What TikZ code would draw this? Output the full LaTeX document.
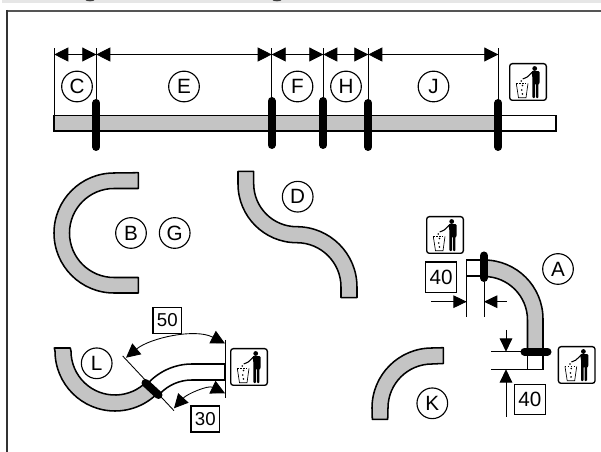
\documentclass[tikz,border=0pt]{standalone}
\usepackage{fontspec}
\setmainfont{Liberation Sans}
\usetikzlibrary{arrows.meta}
\definecolor{tube}{HTML}{C4C4C4}
\definecolor{framegrey}{HTML}{555555}
\definecolor{stripgrey}{HTML}{E6E6E6}
\tikzset{
  pipe/.style={draw=black,line width=1.15pt,fill=tube,line join=round},
  openpipe/.style={draw=black,line width=1.15pt,fill=white},
  edgeline/.style={draw=black,line width=1.15pt},
  cutline/.style={line width=6pt,line cap=round,black},
  thin dim/.style={line width=.65pt,draw=black},
  dimtips/.style={thin dim,{Triangle[length=10.5pt,width=10.5pt]}-{Triangle[length=10.5pt,width=10.5pt]}},
  righttip/.style={thin dim,-{Triangle[length=10pt,width=9.5pt]}},
  lbl/.style={circle,draw=black,line width=.85pt,minimum size=23pt,inner sep=0pt,font=\fontsize{15.5}{15.5}\selectfont},
  valbox/.style={rectangle,draw=black,line width=.85pt,fill=white,inner sep=0pt},
  iconbox/.style={rectangle,draw=black,line width=1pt,rounded corners=2pt,minimum size=27.5pt,inner sep=0pt,fill=white},
}
\newcommand{\trashicon}[3]{%
  \node[iconbox] (#1) at (#2,#3) {};
  \begin{scope}[shift={(#2,#3)}]
    \fill (6.7,-13.5) circle[radius=2.4];
    \fill[rounded corners=.8pt] (3.2,-10.8) -- (11.7,-10.8) -- (11.7,1.5) -- (10.4,1.5) -- (10.4,16.2) -- (7.9,16.2) -- (7.9,1.5) -- (6.9,1.5) -- (6.9,16.2) -- (4.4,16.2) -- (4.4,-5) -- cycle;
    \draw[line width=.8pt] (4,-9.5) -- (-1,-4.8) -- (-5.3,-3);
    \draw[line width=.5pt] (-11.7,1.5) -- (-9.5,15.7) -- (-2,15.7) -- (0,1.5);
    \draw[line width=.5pt,dash pattern=on 1pt off 1.2pt] (-11.7,1.5) -- (0,1.5);
    \foreach \p in {(-6.7,-1),(-5.5,3.5),(-6.3,8),(-5.6,12)} \fill \p circle[radius=.9];
  \end{scope}}
\begin{document}
\begin{tikzpicture}[x=.75pt,y=.75pt,yscale=-1]
\useasboundingbox (0,0) rectangle (601,452);
% page fragments
\fill[stripgrey] (2,0) rectangle (601,3);
\fill[black!75] (90,0) ellipse[x radius=4.5,y radius=1.3];
\fill[black!75] (277,0) ellipse[x radius=4.5,y radius=1.3];
\draw[framegrey,line width=1.5pt] (601,11) -- (6.8,11);
\draw[black!80,line width=1.1pt] (6.8,10) -- (6.8,452);
% top bar
\draw[openpipe] (54,115.5) rectangle (556,131);
\draw[pipe] (54,115.5) rectangle (498.3,131);
\coordinate (c0) at (54.3,48.3);
\coordinate (c1) at (96.3,48.3);
\coordinate (c2) at (271.7,48.3);
\coordinate (c3) at (323.3,48.3);
\coordinate (c4) at (368.3,48.3);
\coordinate (c5) at (498.3,48.3);
\draw[thin dim] (c0) -- (54.3,115.5);
\draw[thin dim] (c1) -- (96.3,100);
\draw[thin dim] (c2) -- (271.7,100);
\draw[thin dim] (c3) -- (323.3,100);
\draw[thin dim] (c4) -- (368.3,100);
\draw[thin dim] (c5) -- (498.3,100);
\draw[dimtips] (54.3,54.5) -- (96.3,54.5);
\draw[dimtips] (96.3,54.5) -- (271.7,54.5);
\draw[dimtips] (271.7,54.5) -- (323.3,54.5);
\draw[dimtips] (323.3,54.5) -- (368.3,54.5);
\draw[dimtips] (368.3,54.5) -- (498.3,54.5);
\draw[cutline] (96.3,103) -- (96.3,147);
\draw[cutline] (271.7,101) -- (271.7,145);
\draw[cutline] (323.3,101) -- (323.3,145);
\draw[cutline] (368.3,103) -- (368.3,147);
\draw[cutline] (498.3,103) -- (498.3,147);
\node[lbl] (C) at (77,86.5) {C};
\node[lbl] (E) at (184,86.5) {E};
\node[lbl] (F) at (297.5,86.5) {F};
\node[lbl] (H) at (346,86.5) {H};
\node[lbl] (J) at (433.5,86.5) {J};
\trashicon{binTop}{528}{82}
% B G
\draw[pipe] (138.3,172.7) -- (114,173) arc[start angle=270,end angle=90,radius=60] -- (138.3,293) -- (138.3,277.5) -- (114,277.5) arc[start angle=90,end angle=270,radius=44.5] -- (138.3,188.5) -- cycle;
\node[lbl] (B) at (131,233) {B};
\node[lbl] (G) at (174.7,233) {G};
% D
\draw[pipe] (238,171.3) -- (238,184) arc[start angle=180,end angle=90,radius=58.7] arc[start angle=270,end angle=360,radius=44.3] -- (341,297.7) -- (357,297.7) -- (357,287) arc[start angle=0,end angle=-90,radius=60.3] arc[start angle=90,end angle=180,radius=43] -- (253.7,171.3) -- cycle;
\node[lbl] (D) at (297.7,196.7) {D};
% A
\draw[openpipe] (466.7,260) rectangle (484,276);
\draw[openpipe] (527.5,351.7) rectangle (543,369.3);
\draw[pipe] (484,260) arc[start angle=270,end angle=360,radius=59] -- (543,351.7) -- (527.5,351.7) -- (527.5,320) arc[start angle=0,end angle=-90,radius=43.5] -- cycle;
\draw[cutline] (484,255.5) -- (484,278);
\draw[cutline] (524.5,351.7) -- (547.5,351.7);
\coordinate (a1) at (466.7,316.7);
\coordinate (a2) at (484,316.7);
\draw[thin dim] (466.7,276) -- (a1);
\draw[thin dim] (484,282) -- (a2);
\coordinate (a3) at (431,301.7);
\coordinate (a4) at (506.7,301.7);
\draw[righttip] (a3) -- (466.7,301.7);
\draw[righttip] (a4) -- (484,301.7);
\coordinate (a5) at (491,351.7);
\coordinate (a6) at (491,369.3);
\draw[thin dim] (a5) -- (521,351.7);
\draw[thin dim] (a6) -- (528,369.3);
\coordinate (a7) at (506,330);
\coordinate (a8) at (506,416.7);
\draw[righttip] (a7) -- (506,351.7);
\draw[righttip] (a8) -- (506,369.3);
\node[valbox,minimum width=23pt,minimum height=23pt,font=\fontsize{15.5}{15.5}\selectfont] (v1) at (441.2,277.3) {40};
\node[valbox,minimum width=23pt,minimum height=23pt,font=\fontsize{15.5}{15.5}\selectfont] (v2) at (529.8,399.6) {40};
\node[lbl] (A) at (558,269) {A};
\trashicon{binA}{445}{235}
\trashicon{binB}{576.7}{365}
% K
\draw[pipe] (443.3,347.7) -- (432,348) arc[start angle=270,end angle=180,radius=60] -- (372.3,419.3) -- (387.7,419.3) -- (388,408) arc[start angle=180,end angle=270,radius=44] -- (443.3,363.5) -- cycle;
\node[lbl] (K) at (432.3,403.3) {K};
% L
\draw[pipe] (54.3,348) -- (55,351) arc[start angle=180,end angle=43.5,radius=60] -- (146.9,381.3) arc[start angle=43.5,end angle=180,radius=44] -- (70.3,348) -- cycle;
\draw[edgeline] (148.5,382.7) arc[start angle=223.5,end angle=270,radius=60] -- (225,364);
\draw[edgeline] (160,393.7) arc[start angle=223.5,end angle=270,radius=44] -- (225,380);
\draw[black,line width=1.5pt] (225.3,364.5) -- (225.3,380);
\coordinate (l1) at (122.7,356);
\coordinate (l2) at (174,410.7);
\draw[thin dim] (l1) -- (l2);
\coordinate (l3) at (225.3,340);
\coordinate (l4) at (225.3,398);
\draw[thin dim] (l3) -- (l4);
\draw[cutline] (145.5,383) -- (158.5,395);
\draw[dimtips] (126,357.7) .. controls (150,338) and (195,328) .. (225,343.5);
\draw[dimtips] (174,408.3) .. controls (187,394) and (208,385) .. (225,393.3);
\node[valbox,minimum width=21.5pt,minimum height=19.5pt,font=\fontsize{14}{14}\selectfont] (v50) at (167.3,320.3) {50};
\node[valbox,minimum width=21.5pt,minimum height=19.5pt,font=\fontsize{14}{14}\selectfont] (v30) at (205.3,419) {30};
\node[lbl] (L) at (96.7,363.3) {L};
\trashicon{binL}{249}{367}
\end{tikzpicture}
\end{document}
